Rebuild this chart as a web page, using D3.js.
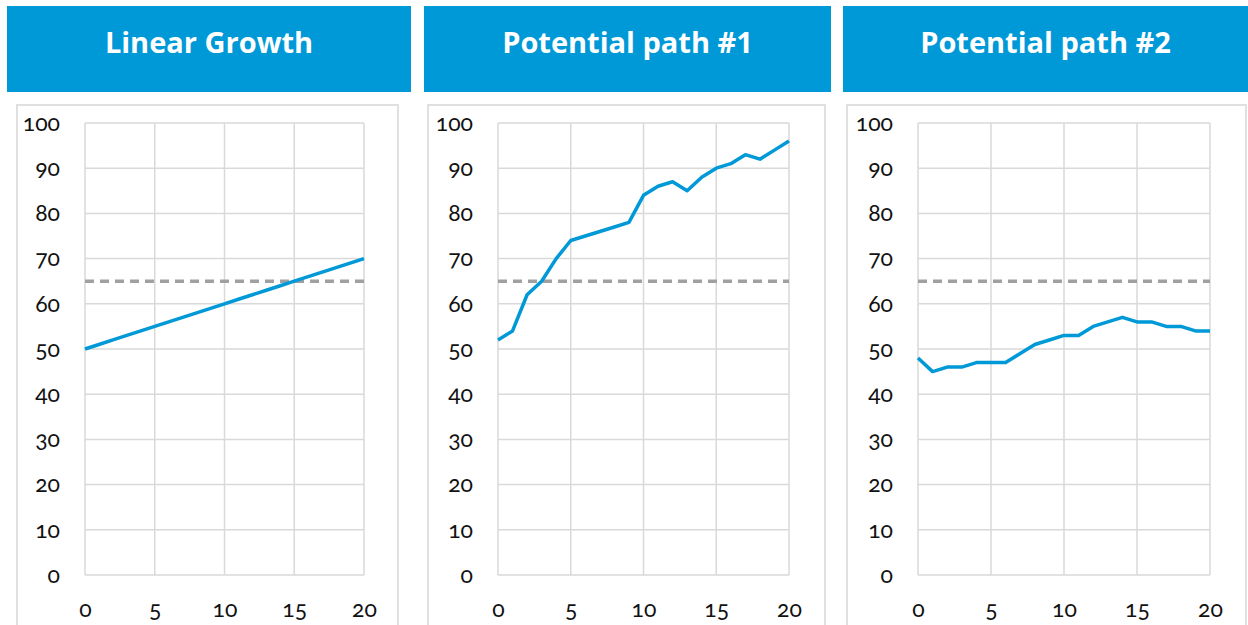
<!DOCTYPE html>
<html><head><meta charset="utf-8">
<script src="https://cdn.jsdelivr.net/npm/d3@7"></script>
<style>
body{margin:0;background:#fff;}
text{font-family:"Lato","Open Sans",sans-serif;}
.tick text{font-variant-numeric:oldstyle-nums;font-feature-settings:"onum" 1;}
</style></head><body>
<svg id="c" width="1248" height="625"></svg>
<script>
const titles = ["Linear Growth", "Potential path #1", "Potential path #2"];
const xValues = [0,1,2,3,4,5,6,7,8,9,10,11,12,13,14,15,16,17,18,19,20];
const linearGrowth = [50,51,52,53,54,55,56,57,58,59,60,61,62,63,64,65,66,67,68,69,70];
const path1 = [52,54,62,65,70,74,75,76,77,78,84,86,87,85,88,90,91,93,92,94,96];
const path2 = [48,45,46,46,47,47,47,49,51,52,53,53,55,56,57,56,56,55,55,54,54];
const threshold = 65;
const xTicks = [0,5,10,15,20];
const yTicks = [0,10,20,30,40,50,60,70,80,90,100];
const seriesList = [linearGrowth, path1, path2];

const panels = [
  {hx:7, hw:404, bx:17, bw:381, px0:85, px1:364},
  {hx:424, hw:407, bx:428, bw:397, px0:498, px1:789},
  {hx:843, hw:405, bx:847, bw:399, px0:918, px1:1210}
];
const svg = d3.select("#c");
const blue = "#0099d8";
const plotTop = 123, plotBottom = 575;

panels.forEach((p, i) => {
  const g = svg.append("g");
  g.append("rect").attr("x", p.hx).attr("y", 6).attr("width", p.hw).attr("height", 86).attr("fill", blue);
  g.append("text").attr("x", p.hx + p.hw/2).attr("y", 41).attr("text-anchor","middle")
    .attr("dominant-baseline","central").attr("fill","#fff").attr("font-weight","bold")
    .attr("font-size", 29).style("font-family","'Open Sans',sans-serif").text(titles[i]);
  g.append("rect").attr("x", p.bx).attr("y", 105).attr("width", p.bw).attr("height", 540)
    .attr("fill","none").attr("stroke","#e0e0e0").attr("stroke-width",2);

  const x = d3.scaleLinear().domain([0,20]).range([p.px0, p.px1]);
  const y = d3.scaleLinear().domain([0,100]).range([plotBottom, plotTop]);

  g.append("g").selectAll("line").data(yTicks).join("line")
    .attr("x1", p.px0).attr("x2", p.px1).attr("y1", d=>y(d)).attr("y2", d=>y(d))
    .attr("stroke","#d9d9d9").attr("stroke-width",1.5);
  g.append("g").selectAll("line").data(xTicks).join("line")
    .attr("x1", d=>x(d)).attr("x2", d=>x(d)).attr("y1", plotTop).attr("y2", plotBottom)
    .attr("stroke","#d9d9d9").attr("stroke-width",1.5);

  const ya = g.append("g").attr("transform", `translate(${p.px0 - 25},0)`)
    .call(d3.axisLeft(y).tickValues(yTicks).tickSize(0).tickPadding(0));
  ya.select(".domain").remove();
  ya.selectAll("text").attr("font-size", 23).attr("fill","#111").style("font-family","Lato,'Open Sans',sans-serif");
  const xa = g.append("g").attr("transform", `translate(0,${plotBottom + 26})`)
    .call(d3.axisBottom(x).tickValues(xTicks).tickSize(0).tickPadding(0));
  xa.select(".domain").remove();
  xa.selectAll("text").attr("font-size", 23).attr("fill","#111").style("font-family","Lato,'Open Sans',sans-serif");

  g.append("line").attr("x1", x(0)).attr("x2", x(20)).attr("y1", y(threshold)).attr("y2", y(threshold))
    .attr("stroke","#a0a0a0").attr("stroke-width",3.5).attr("stroke-dasharray","9,6");

  const line = d3.line().x((d,k)=>x(xValues[k])).y(d=>y(d));
  g.append("path").datum(seriesList[i]).attr("d", line).attr("fill","none")
    .attr("stroke", blue).attr("stroke-width",3.5).attr("stroke-linejoin","round");
});
</script></body></html>
